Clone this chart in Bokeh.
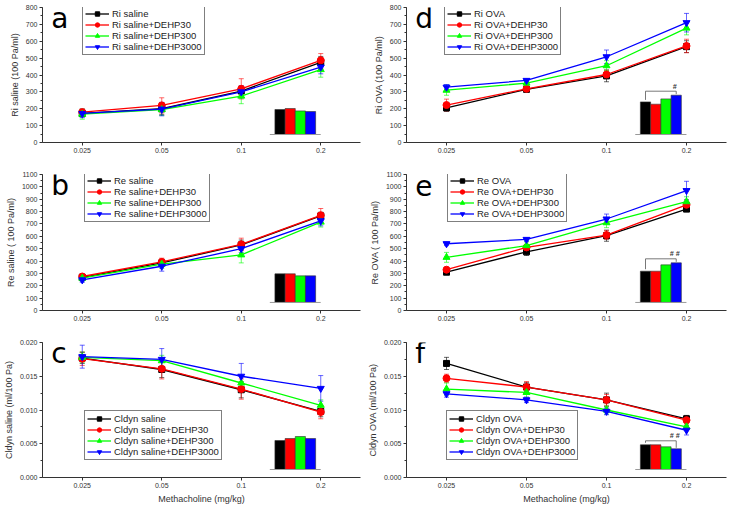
from bokeh.plotting import figure
from bokeh.layouts import gridplot
from bokeh.models import (ColumnDataSource, Range1d, FixedTicker, SingleIntervalTicker,
                          Whisker, TeeHead, Legend, LegendItem, Label, NumeralTickFormatter)
from bokeh.core.properties import value
from bokeh.embed import file_html
from bokeh.resources import INLINE

# ---------------- data ----------------
doses = ["0.025", "0.05", "0.1", "0.2"]
suffixes = ["", "+DEHP30", "+DEHP300", "+DEHP3000"]
colors = ["#000000", "#ff0000", "#00ff00", "#0000ff"]
markers = ["square", "circle", "triangle", "inverted_triangle"]
marker_sizes = [6, 7, 7, 7]

ri_saline_mean = [[172, 200, 305, 475], [180, 220, 318, 487], [168, 195, 275, 432], [172, 198, 300, 447]]
ri_saline_err = [[20, 35, 30, 35], [20, 45, 60, 40], [30, 35, 45, 45], [25, 40, 35, 40]]
ri_saline_inset = [25.0, 26.0, 23.6, 23.0]

re_saline_mean = [[268, 385, 530, 765], [275, 393, 535, 770], [262, 375, 450, 715], [248, 358, 500, 725]]
re_saline_err = [[20, 30, 40, 30], [20, 30, 50, 55], [25, 35, 65, 40], [20, 40, 30, 40]]
re_saline_inset = [28.4, 28.4, 26.4, 26.4]

cl_saline_mean = [[0.0177, 0.0160, 0.0130, 0.0098], [0.0176, 0.0161, 0.0131, 0.0097],
                  [0.0178, 0.0173, 0.0140, 0.0107], [0.0179, 0.0175, 0.0150, 0.0132]]
cl_saline_err = [[0.0008, 0.0012, 0.0012, 0.0008], [0.0010, 0.0015, 0.0015, 0.0010],
                 [0.0008, 0.0008, 0.0010, 0.0008], [0.0017, 0.0016, 0.0019, 0.0019]]
cl_saline_inset = [29.0, 31.0, 33.0, 31.0]

ri_ova_mean = [[205, 315, 395, 568], [222, 318, 403, 572], [310, 352, 455, 678], [328, 368, 508, 710]]
ri_ova_err = [[20, 15, 35, 35], [35, 15, 25, 40], [30, 15, 30, 40], [15, 10, 40, 55]]
ri_ova_inset = [32.6, 30.3, 35.6, 39.3]

re_ova_mean = [[310, 475, 605, 820], [330, 510, 610, 855], [430, 525, 710, 880], [540, 575, 740, 970]]
re_ova_err = [[15, 30, 45, 20], [20, 25, 35, 40], [40, 30, 40, 40], [15, 15, 40, 75]]
re_ova_inset = [31.0, 31.0, 37.3, 39.3]

cl_ova_mean = [[0.0169, 0.0134, 0.0115, 0.0087], [0.0147, 0.0134, 0.0115, 0.0085],
               [0.0131, 0.0126, 0.0100, 0.0075], [0.0124, 0.0115, 0.0098, 0.0070]]
cl_ova_err = [[0.0009, 0.0007, 0.0010, 0.0005], [0.0006, 0.0008, 0.0008, 0.0006],
              [0.0009, 0.0007, 0.0006, 0.0005], [0.0005, 0.0004, 0.0005, 0.0007]]
cl_ova_inset = [24.7, 24.7, 22.7, 20.7]

FONT = "Liberation Sans"
LEG_H = 48

# row geometry: (border_top, frame_height, border_bottom)
ROWS = [(7, 135, 26), (6, 136, 26), (6, 135, 30)]
# column geometry: (border_left, frame_width, border_right)
COLS = [(40, 320, 4), (42, 320, 2)]


def panel(letter, name, means, errs, inset, sig, ylabel, ymax, step, fmt, legend_at, dx, col, row):
    bl, fw, br = COLS[col]
    bt, fh, bb = ROWS[row]
    bottom = row == 2
    p = figure(width=bl + fw + br, height=bt + fh + bb,
               x_range=Range1d(-0.5, 3.5), y_range=Range1d(0, ymax),
               output_backend="svg", toolbar_location=None,
               min_border_left=bl, min_border_right=br,
               min_border_top=bt, min_border_bottom=bb)
    p.outline_line_color = None
    p.xgrid.visible = False
    p.ygrid.visible = False

    xs = list(range(len(doses)))
    lines, scats = [], []
    for i in range(4):
        src = ColumnDataSource(dict(x=xs, y=means[i],
                                    up=[m + e for m, e in zip(means[i], errs[i])],
                                    lo=[m - e for m, e in zip(means[i], errs[i])]))
        wk = Whisker(base="x", upper="up", lower="lo", source=src, level="underlay",
                     line_color=colors[i], line_alpha=0.6, line_width=1,
                     upper_head=TeeHead(size=5, line_color=colors[i], line_alpha=0.6),
                     lower_head=TeeHead(size=5, line_color=colors[i], line_alpha=0.6))
        p.add_layout(wk)
        lr = p.line("x", "y", source=src, line_color=colors[i], line_width=1.3)
        sr = p.scatter("x", "y", source=src, marker=markers[i], size=marker_sizes[i],
                       fill_color=colors[i], line_color=colors[i])
        lines.append(lr)
        scats.append(sr)

    # axes
    p.xaxis.ticker = FixedTicker(ticks=xs)
    p.xaxis.major_label_overrides = {i: d for i, d in enumerate(doses)}
    p.yaxis.ticker = SingleIntervalTicker(interval=step, num_minor_ticks=2)
    if fmt:
        p.yaxis.formatter = NumeralTickFormatter(format=fmt)
    for ax in (p.xaxis, p.yaxis):
        ax.axis_line_color = "#333333"
        ax.major_tick_line_color = "#333333"
        ax.major_tick_in = 0
        ax.major_tick_out = 3
        ax.minor_tick_in = 0
        ax.minor_tick_out = 2
        ax.major_label_text_font = FONT
        ax.major_label_text_font_size = "7px"
        ax.major_label_text_color = "#333333"
        ax.major_label_standoff = 2
        ax.axis_label_text_font = FONT
        ax.axis_label_text_font_size = "9px"
        ax.axis_label_text_font_style = "normal"
        ax.axis_label_text_color = "#333333"
        ax.axis_label_standoff = 3
    p.xaxis.minor_tick_line_color = None
    p.yaxis.minor_tick_line_color = "#333333"
    p.yaxis.axis_label = ylabel
    if bottom:
        p.xaxis.axis_label = "Methacholine (mg/kg)"

    # legend
    items = [LegendItem(label=name + suffixes[i], renderers=[lines[i], scats[i]]) for i in range(4)]
    ly = fh - LEG_H if legend_at == "top" else 17
    leg = Legend(items=items, location=(dx, ly), border_line_color="black", border_line_width=1,
                 background_fill_color="white", background_fill_alpha=1.0,
                 label_text_font=FONT, label_text_font_size="9.5px", label_text_color="#222222",
                 label_height=11, glyph_height=11, glyph_width=24, spacing=0, padding=2,
                 margin=0, label_standoff=3)
    p.add_layout(leg)

    # panel letter
    p.add_layout(Label(x=-0.39, y=0.918 * ymax, text=letter, text_font="DejaVu Sans",
                       text_font_size="28px", text_baseline="alphabetic", text_color="black"))

    # inset bar chart
    p.extra_x_ranges = {"ix": Range1d(-23.34, 7.91)}
    p.extra_y_ranges = {"iy": Range1d(-8, 127)}
    bx = list(range(len(inset)))
    p.vbar(x=bx, top=inset, bottom=0, width=1, fill_color=colors, line_color="#333333",
           line_width=0.6, x_range_name="ix", y_range_name="iy")
    p.segment(x0=[-1.0], y0=[0], x1=[len(inset)], y1=[0], line_color="#999999", line_width=1,
              x_range_name="ix", y_range_name="iy")
    if sig:
        top = max(inset) + 4
        p.line(x=[bx[0], bx[0], bx[-1], bx[-1]], y=[inset[0] + 2, top, top, inset[-1] + 1],
               line_color="#555555", line_width=0.8, x_range_name="ix", y_range_name="iy")
        p.text(x=[bx[-1] - 0.15], y=[top + 1.5], text=[sig], text_font=value(FONT),
               text_font_size="7px", text_font_style="bold italic", text_align="center",
               text_baseline="bottom", text_color="#333333",
               x_range_name="ix", y_range_name="iy")
    return p


pa = panel("a", "Ri saline", ri_saline_mean, ri_saline_err, ri_saline_inset, None,
           "Ri saline (100 Pa/ml)", 800, 100, None, "top", 40, 0, 0)
pb = panel("b", "Re saline", re_saline_mean, re_saline_err, re_saline_inset, None,
           "Re saline ( 100 Pa/ml)", 1100, 100, None, "top", 42, 0, 1)
pc = panel("c", "Cldyn saline", cl_saline_mean, cl_saline_err, cl_saline_inset, None,
           "Cldyn saline (ml/100 Pa)", 0.020, 0.005, "0.000", "bottom", 42, 0, 2)
pd_ = panel("d", "Ri OVA", ri_ova_mean, ri_ova_err, ri_ova_inset, "#",
            "Ri OVA (100 Pa/ml)", 800, 100, None, "top", 38, 1, 0)
pe = panel("e", "Re OVA", re_ova_mean, re_ova_err, re_ova_inset, "# #",
           "Re OVA ( 100 Pa/ml)", 1100, 100, None, "top", 41, 1, 1)
pf = panel("f", "Cldyn OVA", cl_ova_mean, cl_ova_err, cl_ova_inset, "# #",
           "Cldyn OVA (ml/100 Pa)", 0.020, 0.005, "0.000", "bottom", 40, 1, 2)

grid = gridplot([[pa, pd_], [pb, pe], [pc, pf]], toolbar_location=None)

open("out.html", "w").write(file_html(grid, INLINE))
